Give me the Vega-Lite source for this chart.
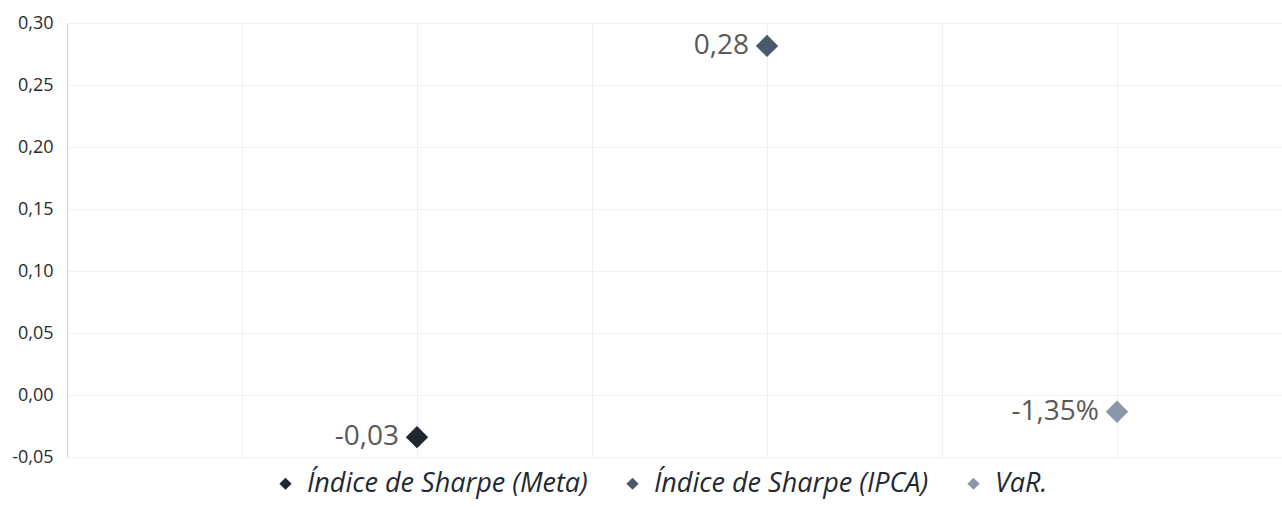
{
  "$schema": "https://vega.github.io/schema/vega-lite/v6.json",
  "autosize": {"type": "none"},
  "padding": {"left": 67, "top": 23, "right": 0, "bottom": 50},
  "width": 1225,
  "height": 434,
  "background": "white",
  "config": {
    "font": "Open Sans",
    "view": {"stroke": null},
    "locale": {"number": {"decimal": ",", "thousands": ".", "grouping": [3], "currency": ["R$", ""], "minus": "-"}}
  },
  "data": {
    "values": [
      {"serie": "Índice de Sharpe (Meta)", "pos": 2, "valor": -0.034, "rotulo": "-0,03"},
      {"serie": "Índice de Sharpe (IPCA)", "pos": 4, "valor": 0.2815, "rotulo": "0,28"},
      {"serie": "VaR.", "pos": 6, "valor": -0.0135, "rotulo": "-1,35%"}
    ]
  },
  "encoding": {
    "x": {
      "field": "pos", "type": "quantitative",
      "scale": {"domain": [0, 7], "nice": false, "zero": false},
      "axis": {"title": null, "labels": false, "ticks": false, "domain": false, "grid": true, "values": [1, 2, 3, 4, 5, 6], "gridColor": "#efefef", "gridWidth": 1}
    },
    "y": {
      "field": "valor", "type": "quantitative",
      "scale": {"domain": [-0.05, 0.30], "nice": false, "zero": false},
      "axis": {"title": null, "values": [-0.05, 0, 0.05, 0.1, 0.15, 0.2, 0.25, 0.3], "format": ".2f", "ticks": false, "domain": true, "domainColor": "#d0d0d0", "grid": true, "gridColor": "#f1f1f1", "labelFontSize": 18, "labelColor": "#2b2b2b", "labelPadding": 14}
    }
  },
  "layer": [
    {
      "mark": {"type": "point", "shape": "diamond", "filled": true, "opacity": 1, "size": 500},
      "encoding": {
        "color": {
          "field": "serie", "type": "nominal",
          "scale": {"domain": ["Índice de Sharpe (Meta)", "Índice de Sharpe (IPCA)", "VaR."], "range": ["#1f2731", "#4b5a6b", "#8b97a9"]},
          "legend": {
            "title": null, "orient": "none", "direction": "horizontal",
            "legendX": 205, "legendY": 447,
            "symbolType": "diamond", "symbolSize": 150, "symbolOpacity": 1,
            "labelFontSize": 27, "labelFontStyle": "italic", "labelColor": "#1f2933",
            "labelLimit": 500, "columnPadding": 31, "symbolOffset": 0, "labelOffset": 8
          }
        }
      }
    },
    {
      "mark": {"type": "text", "align": "right", "baseline": "middle", "dx": -18, "fontSize": 28, "color": "#595959"},
      "encoding": {"text": {"field": "rotulo"}}
    }
  ]
}
